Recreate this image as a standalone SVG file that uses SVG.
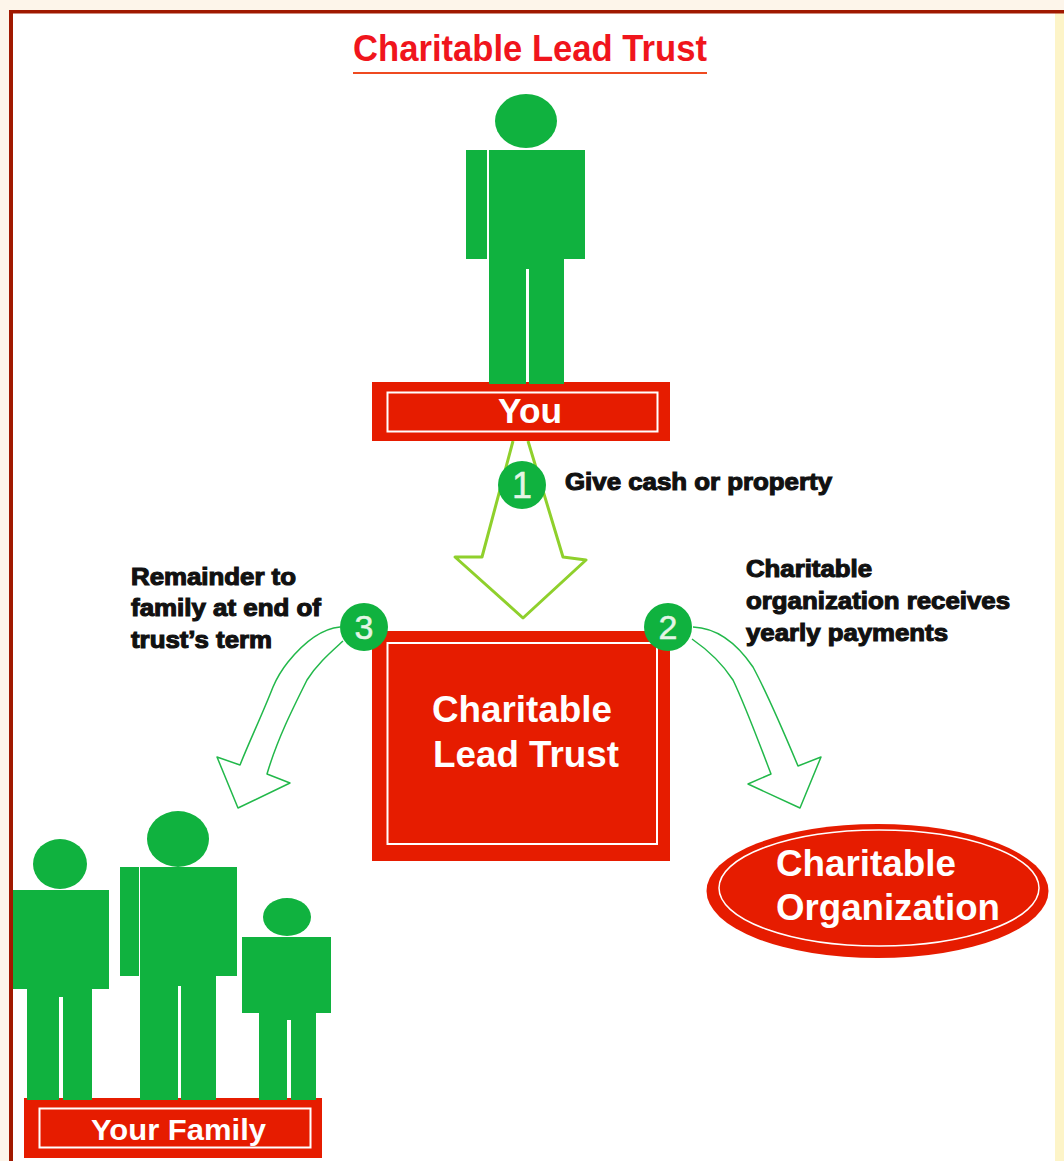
<svg xmlns="http://www.w3.org/2000/svg" width="1064" height="1161" viewBox="0 0 1064 1161">
<style>
text{font-family:"Liberation Sans",Arial,sans-serif}
.g{fill:#10b23f}
.r{fill:#e61c00}
.in{fill:none;stroke:#fff;stroke-width:2}
.w{fill:#fff;font-weight:700;font-size:36px}
.k{fill:#111;font-size:23px;font-weight:700;stroke:#111;stroke-width:1.1}
.n{fill:#e4f5e6;font-size:34px;text-anchor:middle;stroke:#e4f5e6;stroke-width:.5}
.thin{fill:#fff;stroke:#22b84a;stroke-width:1.5;stroke-linejoin:round}
</style>
<rect width="1064" height="1161" fill="#fdf5ea"/>
<rect x="1055" y="13" width="9" height="1148" fill="#fdf4c8"/>
<rect x="11" y="12" width="1044" height="1149" fill="#fff"/>
<rect x="9" y="10" width="4" height="1151" fill="#a01800"/>
<rect x="9" y="10" width="1055" height="3.500" fill="#a01800"/>
<g id="title">
<text x="353" y="61" font-size="37" font-weight="700" fill="#f0151c" textLength="354" lengthAdjust="spacingAndGlyphs">Charitable Lead Trust</text>
<rect x="353" y="72" width="354" height="2" fill="#ef4a20"/>
</g>
<g id="connectors">
<path d="M513 441L482 557H455L523 618L586 560L563 557L528 441" fill="#fff" stroke="#8fd02c" stroke-width="3" stroke-linejoin="round"/>
<path class="thin" d="M693 627C718 628 738 645 753 667C768 695 785 735 798 766L821 757L800 808L748 784L771 774C758 740 745 705 733 680C720 660 705 648 692 639"/>
<path class="thin" d="M340 627C318 629 301 646 288 662C280 672 276 680 273 687C262 715 250 740 240 765L217 757L238 808L290 783L267 774C277 740 292 710 307 680C317 664 331 652 343 641"/>
</g>
<g id="you">
<rect class="r" x="372" y="382" width="298" height="59"/>
<rect class="in" x="387.500" y="392.500" width="270" height="39"/>
<ellipse class="g" cx="526" cy="121" rx="31" ry="27"/>
<rect class="g" x="466" y="150" width="21" height="109"/>
<rect class="g" x="489" y="150" width="96" height="109"/>
<rect class="g" x="489" y="259" width="37" height="125"/>
<rect class="g" x="529" y="259" width="35" height="125"/>
<rect class="g" x="520" y="259" width="15" height="10"/>
<text class="w" x="498" y="423" textLength="64" lengthAdjust="spacingAndGlyphs" style="font-size:35px">You</text>
</g>
<g id="trust">
<rect class="r" x="372" y="631" width="298" height="230"/>
<rect class="in" x="387.500" y="643" width="269.500" height="201"/>
<text class="w" x="432" y="722" textLength="180" lengthAdjust="spacingAndGlyphs">Charitable</text>
<text class="w" x="433" y="767" textLength="186" lengthAdjust="spacingAndGlyphs">Lead Trust</text>
</g>
<g id="organization">
<ellipse class="r" cx="877.500" cy="891" rx="171" ry="67"/>
<ellipse class="in" cx="879" cy="888" rx="160" ry="58" style="stroke-width:1.500"/>
<text class="w" x="776" y="876" textLength="180" lengthAdjust="spacingAndGlyphs">Charitable</text>
<text class="w" x="776" y="920" textLength="224" lengthAdjust="spacingAndGlyphs">Organization</text>
</g>
<g id="family">
<rect class="r" x="24" y="1098" width="298" height="60"/>
<rect class="in" x="39.500" y="1108.500" width="271" height="39"/>
<ellipse class="g" cx="60" cy="864" rx="27" ry="25"/>
<rect class="g" x="13" y="890" width="96" height="99"/>
<rect class="g" x="27" y="989" width="32" height="111"/>
<rect class="g" x="63" y="989" width="29" height="111"/>
<rect class="g" x="55" y="989" width="12" height="8"/>
<ellipse class="g" cx="178" cy="839" rx="31" ry="28"/>
<rect class="g" x="120" y="867" width="19" height="109"/>
<rect class="g" x="140" y="867" width="97" height="109"/>
<rect class="g" x="140" y="976" width="38" height="124"/>
<rect class="g" x="181" y="976" width="35" height="124"/>
<rect class="g" x="174" y="976" width="12" height="10"/>
<ellipse class="g" cx="287" cy="917" rx="24" ry="19"/>
<rect class="g" x="242" y="937" width="89" height="76"/>
<rect class="g" x="259" y="1013" width="28" height="87"/>
<rect class="g" x="291" y="1013" width="25" height="87"/>
<rect class="g" x="283" y="1013" width="12" height="7"/>
<text class="w" x="91" y="1140" textLength="175" lengthAdjust="spacingAndGlyphs" style="font-size:29px">Your Family</text>
</g>
<g id="badge-1"><circle class="g" cx="522" cy="485" r="24"/><text class="n" x="522" y="498" style="font-size:36px">1</text></g>
<g id="badge-2"><circle class="g" cx="668" cy="627" r="24"/><text class="n" x="668" y="639">2</text></g>
<g id="badge-3"><circle class="g" cx="364" cy="627" r="24"/><text class="n" x="364" y="639">3</text></g>
<g id="labels">
<text class="k" x="565" y="490" textLength="267" lengthAdjust="spacingAndGlyphs">Give cash or property</text>
<text class="k" x="746" y="577" textLength="126" lengthAdjust="spacingAndGlyphs">Charitable</text>
<text class="k" x="746" y="609" textLength="264" lengthAdjust="spacingAndGlyphs">organization receives</text>
<text class="k" x="746" y="641" textLength="202" lengthAdjust="spacingAndGlyphs">yearly payments</text>
<text class="k" x="131" y="585" textLength="165" lengthAdjust="spacingAndGlyphs">Remainder to</text>
<text class="k" x="131" y="616" textLength="190" lengthAdjust="spacingAndGlyphs">family at end of</text>
<text class="k" x="131" y="648" textLength="141" lengthAdjust="spacingAndGlyphs">trust’s term</text>
</g>
</svg>
